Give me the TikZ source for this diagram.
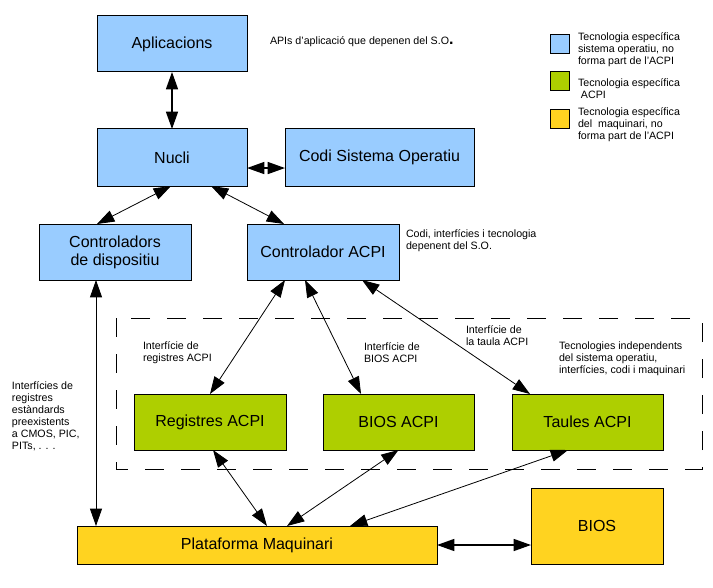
\documentclass[tikz,border=0pt]{standalone}
\usepackage{fontspec}
\setmainfont{Liberation Sans}
\usetikzlibrary{arrows.meta,calc}
\definecolor{osblue}{HTML}{99CCFF}
\definecolor{acpigreen}{HTML}{AECF00}
\definecolor{hwyellow}{HTML}{FFD320}
\tikzset{
  box/.style={draw=black, line width=0.75pt, inner sep=0pt, outer sep=0pt, align=center,
    font=\fontsize{12pt}{13.3pt}\selectfont},
  osbox/.style={box, fill=osblue},
  acpibox/.style={box, fill=acpigreen},
  hwbox/.style={box, fill=hwyellow},
  legendsq/.style={draw=black, line width=0.75pt, inner sep=0pt, outer sep=0pt,
    minimum width=14.25pt, minimum height=14.25pt},
  note/.style={inner sep=0pt, outer sep=0pt, anchor=west, align=left,
    font=\fontsize{8pt}{9pt}\selectfont},
  thinarrow/.style={line width=0.6pt,
    {Triangle[length=13pt,width=9pt]}-{Triangle[length=13pt,width=9pt]}},
  thickarrow/.style={line width=1.1pt,
    {Triangle[length=13pt,width=9pt]}-{Triangle[length=13pt,width=9pt]}},
  dashframe/.style={draw=black, line width=0.75pt, dash pattern=on 14pt off 13pt}
}
\begin{document}
\begin{tikzpicture}[x=0.75pt,y=-0.75pt]
\useasboundingbox (0,0) rectangle (713,588);
\fill[white] (0,0) rectangle (713,588);

% dashed frame
\draw[dashframe] (116,318) rectangle (702,469);

% OS boxes
\node[osbox, minimum width=112.5pt, minimum height=42pt] (apl) at (172,44) {Aplicacions};
\node[osbox, minimum width=112.5pt, minimum height=42.75pt] (nucli) at (172,157.5) {Nucli};
\node[osbox, minimum width=141.75pt, minimum height=42.75pt] (codi) at (379.5,157.5) {Codi Sistema Operatiu};
\node[osbox, minimum width=114pt, minimum height=42pt] (ctrl) at (115,252) {Controladors\\de dispositiu};
\node[osbox, minimum width=114pt, minimum height=42pt] (acpi) at (323,252) {Controlador ACPI};

% ACPI boxes
\node[acpibox, minimum width=114pt, minimum height=42pt] (reg) at (210,422) {Registres ACPI};
\node[acpibox, minimum width=113.25pt, minimum height=42pt] (bacpi) at (398.5,422) {BIOS ACPI};
\node[acpibox, minimum width=113.25pt, minimum height=42pt] (taul) at (587.5,422) {Taules ACPI};

% hardware boxes
\node[hwbox, minimum width=270pt, minimum height=28.5pt] (plat) at (257,545) {Plataforma Maquinari};
\node[hwbox, minimum width=99pt, minimum height=57pt] (bios) at (597,526) {BIOS};

% notes
\node[note] (napi) at (270,42) {APIs d'aplicació que depenen del S.O{\fontsize{12pt}{12pt}\selectfont\textbf{.}}};
\node[note] (ncodi) at (406,241) {Codi, interfícies i tecnologia\\depenent del S.O.};
\node[note] (nreg) at (143,353) {Interfície de\\registres ACPI};
\node[note] (nbios) at (364,353) {Interfície de\\BIOS ACPI};
\node[note] (ntaula) at (466,336) {Interfície de\\la taula ACPI};
\node[note] (ntec) at (559,359) {Tecnologies independents\\del sistema operatiu,\\interfícies, codi i maquinari};
\node[note] (nleft) at (12,416) {Interfícies de\\registres\\estàndards\\preexistents\\a CMOS, PIC,\\PITs, . . .};

% legend
\node[legendsq, fill=osblue] (lg1) at (559.5,44.5) {};
\node[legendsq, fill=acpigreen] (lg2) at (559.5,81.5) {};
\node[legendsq, fill=hwyellow] (lg3) at (559.5,119.5) {};
\node[note] (lt1) at (578,49.5) {Tecnologia específica\\sistema operatiu, no\\forma part de l'ACPI};
\node[note] (lt2) at (578,89) {Tecnologia específica\\\ ACPI};
\node[note] (lt3) at (578,125) {Tecnologia específica\\del\ \ maquinari, no\\forma part de l'ACPI};

% connectors
\draw[thickarrow] (apl.south) -- (nucli.north);
\draw[thickarrow] ([yshift=-7.9pt]nucli.east) -- ([yshift=-7.9pt]codi.west);
\draw[thinarrow] ([xshift=-0.75pt]nucli.south) -- ([xshift=-13.5pt]ctrl.north);
\draw[thinarrow] ([xshift=29.25pt]nucli.south) -- ([xshift=-29.25pt]acpi.north);
\draw[thinarrow] ([xshift=-28.5pt]acpi.south) -- (reg.north);
\draw[thinarrow] ([xshift=-13.5pt]acpi.south) -- ([xshift=-28.1pt]bacpi.north);
\draw[thinarrow] ([xshift=-27.75pt]acpi.south east) -- ([xshift=13.5pt]taul.north west);
\draw[thinarrow] ([xshift=2.25pt]reg.south) -- ([xshift=7.5pt]plat.north);
\draw[thinarrow] (bacpi.south) -- ([xshift=22.5pt]plat.north);
\draw[thinarrow] ([xshift=-14.6pt]taul.south) -- ([xshift=69.75pt]plat.north);
\draw[thinarrow] ([xshift=-14.25pt]ctrl.south) -- ([xshift=-14.25pt]ctrl.south |- plat.north);
\draw[thickarrow] (plat.east) -- (plat.east -| bios.west);
\end{tikzpicture}
\end{document}
